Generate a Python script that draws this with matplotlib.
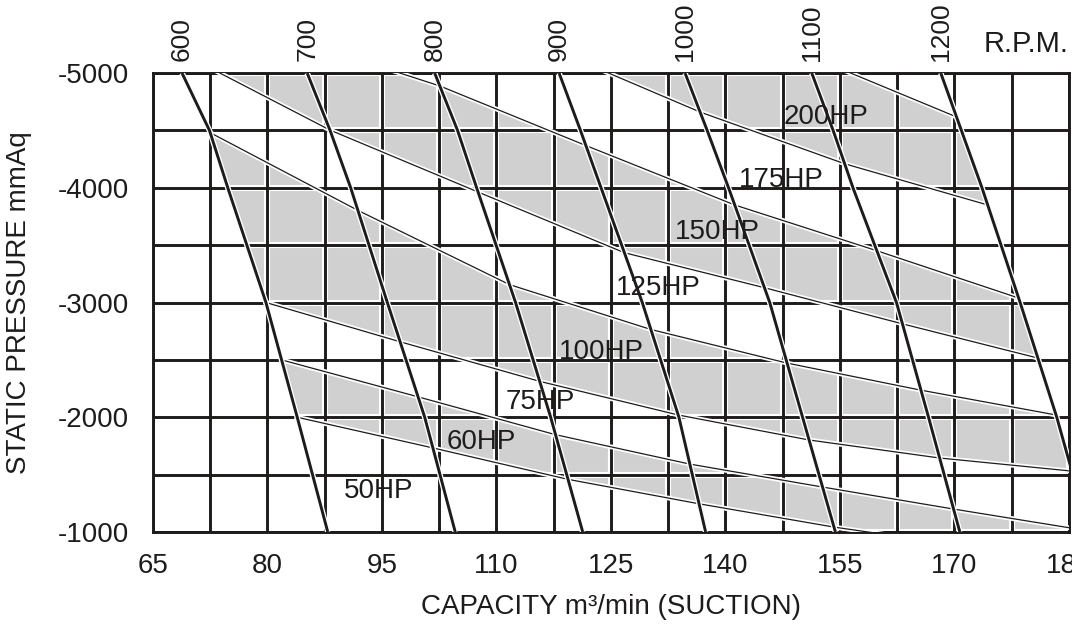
import matplotlib
matplotlib.use("Agg")
import matplotlib.pyplot as plt
import matplotlib.patheffects as pe
import numpy as np

plt.rcParams['font.family'] = ['Liberation Sans', 'DejaVu Sans']
plt.rcParams['axes.unicode_minus'] = False

INK = '#1e1b1b'
SHADE = '#d0d0d0'

# static pressure levels (mmAq) at which the rpm curves were read
pressure_levels = [-5000, -4500, -4000, -3000, -2000, -1000]

# capacity (m3/min) of each rpm curve at those pressure levels
rpm_labels = ['600', '700', '800', '900', '1000', '1100', '1200']
cap_600 = [68.8, 72.4, 74.8, 79.8, 83.9, 87.9]
cap_700 = [85.2, 88.2, 90.9, 95.7, 100.6, 104.6]
cap_800 = [101.9, 104.9, 107.4, 112.5, 117.1, 121.3]
cap_900 = [118.2, 121.0, 123.7, 129.1, 133.9, 137.4]
cap_1000 = [134.7, 137.6, 140.4, 145.8, 150.1, 154.4]
cap_1100 = [151.3, 154.1, 156.7, 162.4, 166.6, 170.7]
cap_1200 = [168.2, 170.9, 173.6, 178.6, 183.4, 187.6]
rpm_curves = [cap_600, cap_700, cap_800, cap_900, cap_1000, cap_1100, cap_1200]

# power boundary lines: pressure where each boundary meets the 600..1200 rpm curves
hp_edge_1 = [-7000, -6800, -6600, -6300, -5850, -5166, -4617]
hp_edge_2 = [-7000, -6600, -5900, -5218, -4660, -4209, -3850]
hp_edge_3 = [-6000, -5300, -4887, -4368, -3850, -3451, -3039]
hp_edge_4 = [-5227, -4503, -3963, -3434, -3129, -2814, -2516]
hp_edge_5 = [-4480, -3803, -3156, -2765, -2472, -2236, -2020]
hp_edge_6 = [-3000, -2658, -2313, -2020, -1802, -1645, -1531]
hp_edge_7 = [-2500, -2178, -1848, -1592, -1392, -1200, -1010]
hp_edge_8 = [-2000, -1733, -1459, -1246, -1043, -880, -750]
hp_edges = [hp_edge_1, hp_edge_2, hp_edge_3, hp_edge_4,
            hp_edge_5, hp_edge_6, hp_edge_7, hp_edge_8]
# shaded zones = pairs of boundaries
shaded_pairs = [(0, 1), (2, 3), (4, 5), (6, 7)]

hp_names = ['200HP', '175HP', '150HP', '125HP', '100HP', '75HP', '60HP', '50HP']
hp_label_x = [153.2, 147.3, 138.9, 131.2, 123.7, 115.7, 108.0, 94.5]
hp_label_y = [-4620, -4067, -3614, -3126, -2569, -2133, -1784, -1357]

x_ticks = [65, 80, 95, 110, 125, 140, 155, 170, 185]
y_ticks = [-5000, -4000, -3000, -2000, -1000]


def cap_at(curve, p):
    # linear interpolation along an rpm curve, extended past its ends
    lv = np.array(pressure_levels, dtype=float)
    cv = np.array(curve, dtype=float)
    if p < lv[0]:
        return cv[0] + (p - lv[0]) * (cv[1] - cv[0]) / (lv[1] - lv[0])
    if p > lv[-1]:
        return cv[-1] + (p - lv[-1]) * (cv[-1] - cv[-2]) / (lv[-1] - lv[-2])
    return float(np.interp(p, lv, cv))


def edge_points(edge):
    xs = [cap_at(c, p) for c, p in zip(rpm_curves, edge)]
    return xs, list(edge)


def along_curve(curve, p_from, p_to):
    # points of an rpm curve between two pressures, ordered from p_from to p_to
    lo, hi = min(p_from, p_to), max(p_from, p_to)
    mid = sorted([p for p in pressure_levels if lo < p < hi], reverse=p_from > p_to)
    ps = [p_from] + mid + [p_to]
    return [cap_at(curve, p) for p in ps], ps


fig = plt.figure(figsize=(10.72, 6.24), dpi=100)
ax = fig.add_axes([0.1427, 0.1474, 0.8545, 0.7356])
ax.set_xlim(65, 185)
ax.set_ylim(-1000, -5000)

# shaded motor zones
for i_up, i_lo in shaded_pairs:
    ux, uy = edge_points(hp_edges[i_up])
    lx, ly = edge_points(hp_edges[i_lo])
    rx, ry = along_curve(cap_1200, uy[-1], ly[-1])
    lfx, lfy = along_curve(cap_600, ly[0], uy[0])
    px = ux + rx + lx[::-1] + lfx
    py = uy + ry + ly[::-1] + lfy
    ax.fill(px, py, color=SHADE, lw=0, zorder=1)

# grid with white gaps around it
for gx in np.arange(65, 185.01, 7.5):
    ax.axvline(gx, color='white', lw=4.4, zorder=2)
    ax.axvline(gx, color=INK, lw=2.1, zorder=3)
for gy in np.arange(-5000, -999, 500):
    ax.axhline(gy, color='white', lw=4.4, zorder=2)
    ax.axhline(gy, color=INK, lw=2.1, zorder=3)

halo = [pe.withStroke(linewidth=3.4, foreground='white')]
for edge in hp_edges:
    ex, ey = edge_points(edge)
    ax.plot(ex, ey, color=INK, lw=0.9, zorder=4, path_effects=halo)

rpm_halo = [pe.withStroke(linewidth=4.0, foreground='white')]
for curve, lab in zip(rpm_curves, rpm_labels):
    ax.plot(curve, pressure_levels, color=INK, lw=2.1, zorder=5,
            path_effects=rpm_halo, solid_capstyle='butt')
    ax.annotate(lab, xy=(curve[0], -5000), xytext=(0, 9), textcoords='offset points',
                rotation=90, ha='center', va='bottom', fontsize=19, color=INK,
                annotation_clip=False)
ax.annotate('R.P.M.', xy=(179.4, -5000), xytext=(0, 21), textcoords='offset points',
            ha='center', va='center', fontsize=21, color=INK, annotation_clip=False)

for name, hx, hy in zip(hp_names, hp_label_x, hp_label_y):
    ax.text(hx, hy, name, ha='center', va='center', fontsize=20, color=INK, zorder=6)

ax.set_xticks(x_ticks)
ax.set_yticks(y_ticks)
ax.set_yticklabels([str(v) for v in y_ticks])
ax.tick_params(length=0, labelsize=20, colors=INK)
ax.tick_params(axis='x', pad=15)
ax.tick_params(axis='y', pad=17)
for s in ax.spines.values():
    s.set_color(INK)
    s.set_linewidth(2.1)
    s.set_zorder(3.5)

ax.set_xlabel('CAPACITY m³/min (SUCTION)', fontsize=20, color=INK, labelpad=11)
ax.set_ylabel('STATIC PRESSURE mmAq', fontsize=20, color=INK, labelpad=19)

fig.savefig('out.png', dpi=100)
